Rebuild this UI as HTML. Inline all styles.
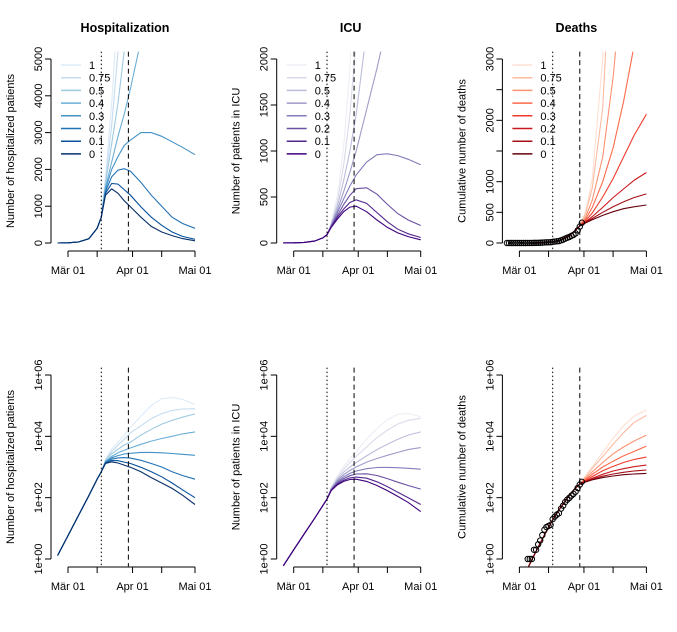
<!DOCTYPE html>
<html><head><meta charset="utf-8"><style>
html,body{margin:0;padding:0;background:#fff;}
svg{display:block;font-family:"Liberation Sans",Arial,sans-serif;}
</style></head><body>
<svg id="chart" width="677" height="632" viewBox="0 0 677 632" xmlns="http://www.w3.org/2000/svg"></svg>
<script>
// ---- data ----
const scenarioLabels = ["1","0.75","0.5","0.4","0.3","0.2","0.1","0"];
const scenDays = [16,18,21,24,27,30,35,40,45,50,55,61];
const hospPreDays = [-5,0,5,10,14,16];
const hospPreVals = [1.3,5.8,26,115,400,700];
const hospS1  = [700,1800,3800,6500,11000,20000,45000,100000,170000,185000,160000,110000];
const hospS075= [700,1700,3200,5200,8000,13000,22000,38000,55000,70000,78000,79000];
const hospS05 = [700,1600,2700,3800,5200,6500,11000,17000,25000,33000,42000,54000];
const hospS04 = [700,1500,2200,2900,3500,4200,5500,7000,8500,10000,12000,14000];
const hospS03 = [700,1450,2000,2350,2650,2800,3000,3000,2900,2750,2600,2400];
const hospS02 = [700,1400,1800,1980,2020,1950,1650,1300,1000,700,530,400];
const hospS01 = [700,1350,1620,1600,1450,1300,980,700,480,300,180,100];
const hospS0  = [700,1300,1470,1350,1150,980,700,450,300,200,120,60];
const icuPreDays = [-5,0,5,10,14,16];
const icuPreVals = [0.6,2,6.5,21,55,90];
const icuS1  = [90,220,520,1050,1900,3200,8000,18000,35000,52000,56000,44000];
const icuS075= [90,210,450,850,1400,2200,4500,9000,16000,25000,33000,39000];
const icuS05 = [90,200,400,680,1000,1400,2300,3700,5500,8000,11000,14000];
const icuS04 = [90,190,360,560,770,1000,1450,1900,2400,3000,3700,4300];
const icuS03 = [90,185,330,480,620,740,880,960,970,950,910,850];
const icuS02 = [90,180,300,420,520,590,600,530,420,320,250,190];
const icuS01 = [90,175,280,370,440,470,430,330,230,150,100,60];
const icuS0  = [90,170,260,340,390,400,340,250,170,110,70,35];
const deathPreDays = [4,8,12,16,20,24,27,29];
const deathPreVals = [0.5,1.8,6,19,50,120,210,280];
const deathScenDays = [29,32,35,40,45,50,55,61];
const deathS1  = [280,530,1050,3000,8500,22000,45000,72000];
const deathS075= [280,500,900,2200,5500,13000,28000,48000];
const deathS05 = [280,440,700,1400,2700,4500,7000,11000];
const deathS04 = [280,400,580,1000,1550,2300,3200,4800];
const deathS03 = [280,370,490,750,1050,1400,1750,2100];
const deathS02 = [280,350,430,580,740,880,1020,1150];
const deathS01 = [280,340,400,500,590,670,740,800];
const deathS0  = [280,330,380,450,510,560,590,620];
const obsDays = [-6,-5,-4,-3,-2,-1,0,1,2,3,4,5,6,7,8,9,10,11,12,13,14,15,16,17,18,19,20,21,22,23,24,25,26,27,28,29,30];
const obsDeaths = [0,0,0,0,0,0,0,0,0,0,1,1,1,2,2,3,4,6,9,11,12,13,20,24,28,31,44,55,72,86,99,117,133,157,206,267,330];
const xTickDays = [0,14,31,45,61];
const xTickLabels = ["Mär 01","","Apr 01","","Mai 01"];
const hospTicks = [0,1000,2000,3000,4000,5000];
const icuTicks = [0,500,1000,1500,2000];
const deathTicks = [0,500,1000,1500,2000,2500,3000];
const deathTickLabels = ["0","500","1000","","2000","","3000"];
const logTicks = [0,2,4,6];
const logTickLabels = ["1e+00","1e+02","1e+04","1e+06"];
const lockdownDay = 16;
const dashedDay = 29;
const blues = ["#DEEBF7","#C6DBEF","#9ECAE1","#6BAED6","#4292C6","#2171B5","#08519C","#08306B"];
const purples = ["#EFEDF5","#DADAEB","#BCBDDC","#9E9AC8","#807DBA","#6A51A3","#54278F","#3F007D"];
const reds = ["#FEE0D2","#FCBBA1","#FC9272","#FB6A4A","#EF3B2C","#CB181D","#A50F15","#67000D"];

const NS = "http://www.w3.org/2000/svg";
const svg = document.getElementById("chart");
function mk(tag, attrs, parent){const e=document.createElementNS(NS,tag);for(const k in attrs)e.setAttribute(k,attrs[k]);(parent||svg).appendChild(e);return e;}

const colX0 = [68,293.7,519.4];
const dayPx = 2.082;
const panels = [
 {title:"Hospitalization",ylab:"Number of hospitalized patients",pre:[hospPreDays,hospPreVals],sd:scenDays,series:[hospS1,hospS075,hospS05,hospS04,hospS03,hospS02,hospS01,hospS0],max:5000,ticks:hospTicks,tl:hospTicks.map(String),cols:blues,key:"hosp"},
 {title:"ICU",ylab:"Number of patients in ICU",pre:[icuPreDays,icuPreVals],sd:scenDays,series:[icuS1,icuS075,icuS05,icuS04,icuS03,icuS02,icuS01,icuS0],max:2000,ticks:icuTicks,tl:icuTicks.map(String),cols:purples,key:"icu"},
 {title:"Deaths",ylab:"Cumulative number of deaths",pre:[deathPreDays,deathPreVals],sd:deathScenDays,series:[deathS1,deathS075,deathS05,deathS04,deathS03,deathS02,deathS01,deathS0],max:3000,ticks:deathTicks,tl:deathTickLabels,cols:reds,key:"deaths",obs:true}
];

panels.forEach((p,ci)=>{
 [0,1].forEach(row=>{
  const oy = row*316;
  const x = d => colX0[ci] + d*dayPx;
  const y = row===0 ? (v => 243 - v/p.max*184) : (v => 559 - Math.log10(v)/6*184 + oy - 316);
  const axX = colX0[ci]-17;
  const g = mk("g",{});
  
  
  const cid = "clip"+ci+row;
  const cp = mk("clipPath",{id:cid},g);
  mk("rect",{x:axX,y:51.6+oy,width:150,height:198.8},cp);
  if(row===0){
   const t = mk("text",{x:colX0[ci]+57,y:32,"text-anchor":"middle","font-size":"12.5","font-weight":"bold"},g);
   t.textContent=p.title;
   
   
  }
  const yl = mk("text",{transform:`translate(${axX-37},${151+oy}) rotate(-90)`,"text-anchor":"middle","font-size":"11"},g);
  yl.textContent=p.ylab;
  
  
  // y axis
  const tv = row===0 ? p.ticks : logTicks.map(t=>Math.pow(10,t));
  const tls = row===0 ? p.tl : logTickLabels;
  mk("line",{x1:axX,x2:axX,y1:y(tv[0]),y2:y(tv[tv.length-1]),stroke:"#000"},g);
  tv.forEach((v,i)=>{
   mk("line",{x1:axX-6,x2:axX,y1:y(v),y2:y(v),stroke:"#000"},g);
   if(tls[i]){const tt=mk("text",{transform:`translate(${axX-9},${y(v)}) rotate(-90)`,"text-anchor":"middle","font-size":"11"},g);tt.textContent=tls[i];
    
    }
  });
  // x axis
  const ay = 251+oy;
  mk("line",{x1:x(xTickDays[0]),x2:x(xTickDays[xTickDays.length-1]),y1:ay,y2:ay,stroke:"#000"},g);
  xTickDays.forEach((d,i)=>{
   mk("line",{x1:x(d),x2:x(d),y1:ay,y2:ay+6,stroke:"#000"},g);
   if(xTickLabels[i]){const tt=mk("text",{x:x(d),y:ay+23,"text-anchor":"middle","font-size":"11"},g);tt.textContent=xTickLabels[i];
    
    }
  });
  const plot = mk("g",{"clip-path":`url(#${cid})`},g);
  // series
  p.series.forEach((s,si)=>{
   const pts=[];
   p.pre[0].forEach((d,i)=>pts.push([x(d),y(p.pre[1][i])]));
   p.sd.forEach((d,i)=>{ if(i>0||d!==p.pre[0][p.pre[0].length-1]) pts.push([x(d),y(s[i])]); });
   const pl = mk("polyline",{points:pts.map(q=>q[0].toFixed(1)+","+q[1].toFixed(1)).join(" "),fill:"none",stroke:p.cols[si],"stroke-width":"1.1"},plot);
   
   
  });
  // vertical lines
  const v1 = mk("line",{x1:x(lockdownDay),x2:x(lockdownDay),y1:51.6+oy,y2:250.4+oy,stroke:"#000","stroke-dasharray":"1.5,2.5"},g);
  
  
  const v2 = mk("line",{x1:x(dashedDay),x2:x(dashedDay),y1:51.6+oy,y2:250.4+oy,stroke:"#000","stroke-dasharray":"5,3.5"},g);
  
  
  if(p.obs){
   obsDays.forEach((d,i)=>{
    const v=obsDeaths[i];
    if(row===1 && v<=0) return;
    const c=mk("circle",{cx:x(d),cy:y(v),r:2.7,fill:"none",stroke:"#000","stroke-width":"1"},plot);
    
    
   });
  }
  if(row===0){
   scenarioLabels.forEach((lab,si)=>{
    const ly = 65+si*12.7;
    const lg = mk("g",{},g);
    
    
    mk("line",{x1:colX0[ci]-7,x2:colX0[ci]+13,y1:ly,y2:ly,stroke:p.cols[si],"stroke-width":"1.5"},lg);
    const tt=mk("text",{x:colX0[ci]+21,y:ly+4,"font-size":"11"},lg);tt.textContent=lab;
   });
  }
 });
});
</script>
</body></html>
